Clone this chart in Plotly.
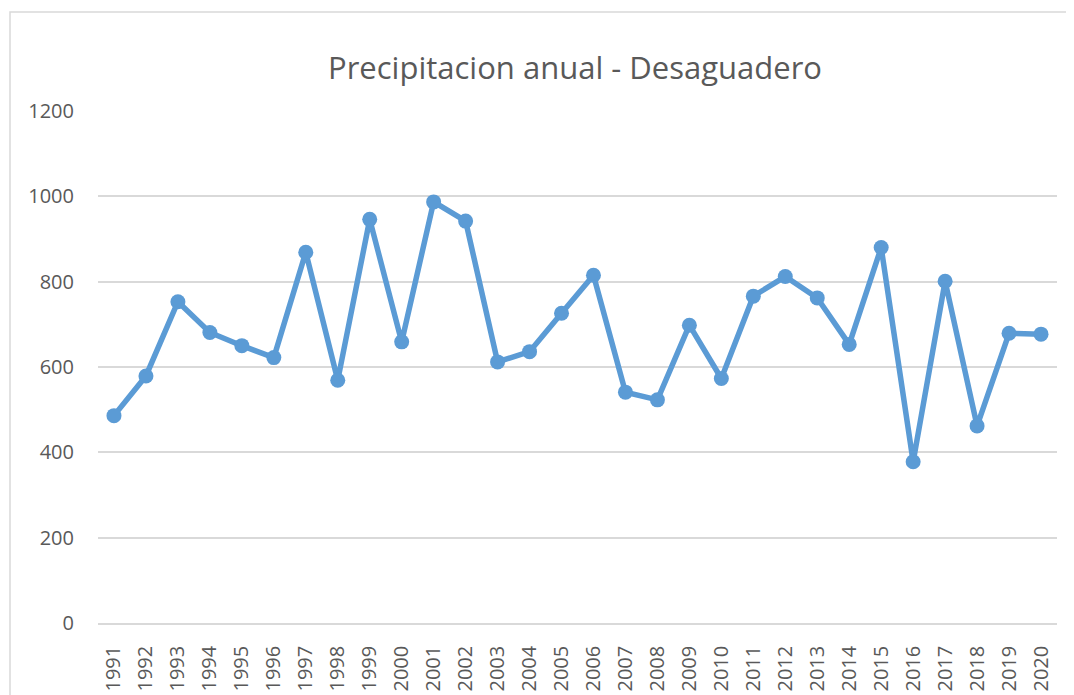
import plotly.graph_objects as go

years = [str(y) for y in range(1991, 2021)]
precip = [486, 579, 753, 681, 650, 622, 869, 569, 946, 659,
          987, 942, 612, 636, 726, 815, 541, 523, 698, 573,
          766, 812, 762, 653, 880, 378, 801, 462, 679, 677]
y_ticks = [0, 200, 400, 600, 800, 1000, 1200]
title_text = "Precipitacion anual - Desaguadero"

# page body has an 8px margin; all pixel positions below are figure coords
W, H = 1074, 695
L, R, T, B = 90, 25, 103, 80
pw, ph = W - L - R, H - T - B

text_color = "#595959"
grid_color = "#D9D9D9"
line_color = "#5B9BD5"

fig = go.Figure()
fig.add_trace(go.Scatter(
    x=years, y=precip, mode="lines+markers",
    line=dict(color=line_color, width=5.5),
    marker=dict(color=line_color, size=15),
    showlegend=False,
))

def px_x(x):
    return (x - L) / pw

def px_y(y):
    return (H - B - y) / ph

fig.add_shape(type="rect", xref="paper", yref="paper",
              x0=px_x(2), x1=px_x(1100), y0=px_y(4), y1=px_y(720),
              line=dict(color=grid_color, width=1.5), fillcolor="rgba(0,0,0,0)",
              layer="below")

fig.update_layout(
    width=W, height=H,
    margin=dict(l=L, r=R, t=T, b=B, autoexpand=False),
    paper_bgcolor="white", plot_bgcolor="white",
    title=dict(text=title_text, x=567 / W, xanchor="center", xref="container",
               y=1 - 60 / H, yanchor="middle", yref="container",
               font=dict(family="Open Sans", size=31, color=text_color)),
    font=dict(family="Open Sans", color=text_color),
)
fig.update_xaxes(
    type="category", range=[-0.5, len(years) - 0.5],
    showgrid=False, showline=True, linecolor=grid_color, linewidth=1.5,
    ticks="", tickangle=-90, tickfont=dict(family="Open Sans", size=20, color=text_color),
    ticklabelstandoff=13, automargin=False,
)
fig.update_yaxes(
    range=[0, 1200], tickvals=y_ticks, ticktext=[str(v) for v in y_ticks],
    showgrid=True, gridcolor=grid_color, gridwidth=1.5,
    zeroline=False, showline=False, ticks="",
    tickfont=dict(family="Open Sans", size=20, color=text_color),
    ticklabelstandoff=23, automargin=False,
)

fig.write_html("out.html")
